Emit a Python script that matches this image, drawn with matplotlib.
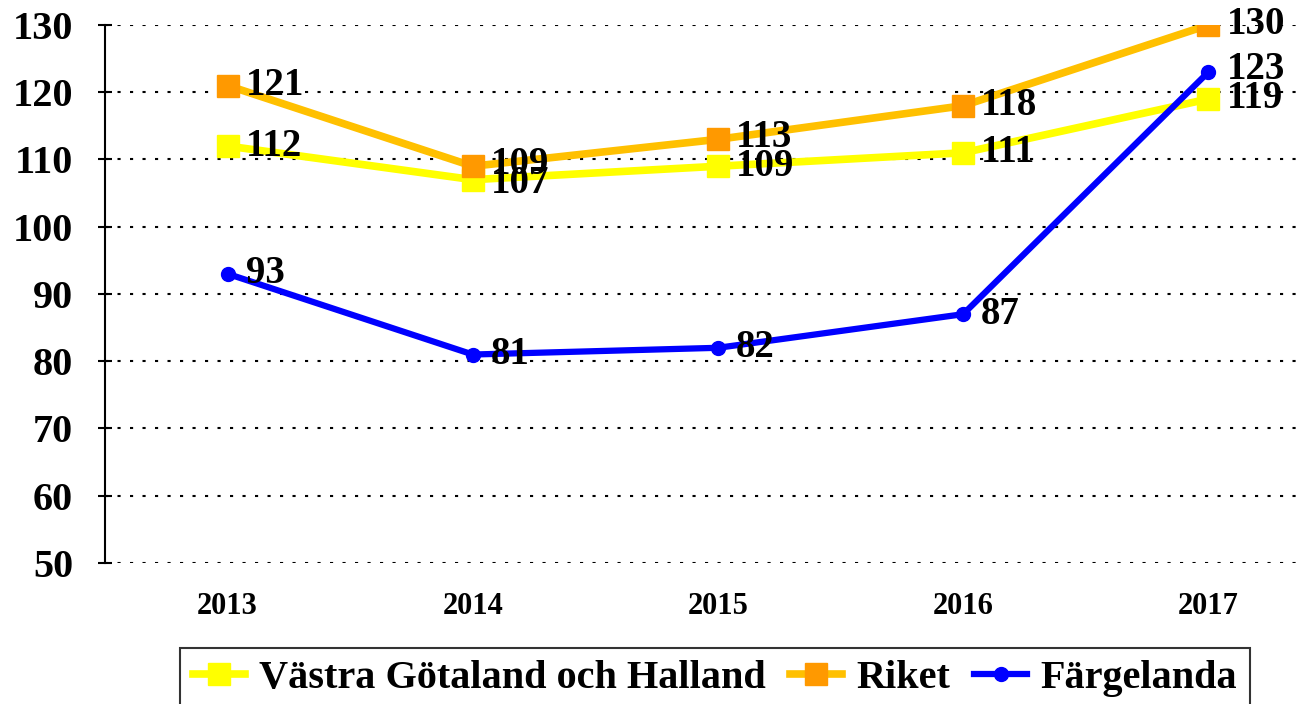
import matplotlib.pyplot as plt

years = ["2013", "2014", "2015", "2016", "2017"]
vgh = [112, 107, 109, 111, 119]
riket = [121, 109, 113, 118, 130]
fargelanda = [93, 81, 82, 87, 123]
names = ["Västra Götaland och Halland", "Riket", "Färgelanda"]

plt.rcParams["font.family"] = ["Liberation Serif", "DejaVu Serif"]
plt.rcParams["font.weight"] = "bold"

fig = plt.figure(figsize=(13.08, 7.04), dpi=100)
ax = fig.add_axes([105 / 1308, 1 - 563 / 704, 1199 / 1308, 538 / 704])

x = list(range(len(years)))
ax.plot(x, vgh, color="#FFFF00", lw=5.5, marker="s", ms=16,
        mfc="#FFFF00", mec="#FFFF00", label=names[0], zorder=3)
ax.plot(x, riket, color="#FFC000", lw=5.5, marker="s", ms=16,
        mfc="#FF9900", mec="#FF9900", label=names[1], zorder=4)
ax.plot(x, fargelanda, color="#0000FF", lw=4.5, marker="o", ms=10,
        mfc="#0000FF", mec="#0000FF", label=names[2], zorder=5)

# data labels to the right of each point
for series, dy in [(vgh, [0, -3, 0, 0, 0]), (riket, [0, 1, 1, 0, 0]),
                   (fargelanda, [0, 0, 0, 0, 2])]:
    for xi, v, d in zip(x, series, dy):
        ax.annotate(str(v), (xi, v), xytext=(13, d), textcoords="offset points",
                    ha="left", va="center", fontsize=28, fontweight="bold",
                    zorder=10)

ax.set_xlim(-0.5, 4.39)
ax.set_ylim(50, 130)
ax.set_yticks(range(50, 131, 10))
ax.set_xticks(x)
ax.set_xticklabels(years, fontsize=22, fontweight="bold")
ax.tick_params(axis="y", direction="inout", length=10, width=1.5,
               labelsize=29, pad=18)
ax.tick_params(axis="x", length=0, pad=21)
ax.grid(axis="y", color="black", lw=1.5, linestyle=(0, (1.5, 4.5)))
ax.set_axisbelow(True)
for s in ["top", "right", "bottom"]:
    ax.spines[s].set_visible(False)
ax.spines["left"].set_linewidth(1.5)

leg = fig.legend(loc="upper center", bbox_to_anchor=(715 / 1308, 1 - 648 / 704),
                 ncol=3, fontsize=29, frameon=True, fancybox=False,
                 edgecolor="black", handlelength=1.3, handletextpad=0.35,
                 columnspacing=0.6, borderaxespad=0, borderpad=0.3)
leg.get_frame().set_linewidth(1.5)

fig.savefig("out.png", dpi=100)
